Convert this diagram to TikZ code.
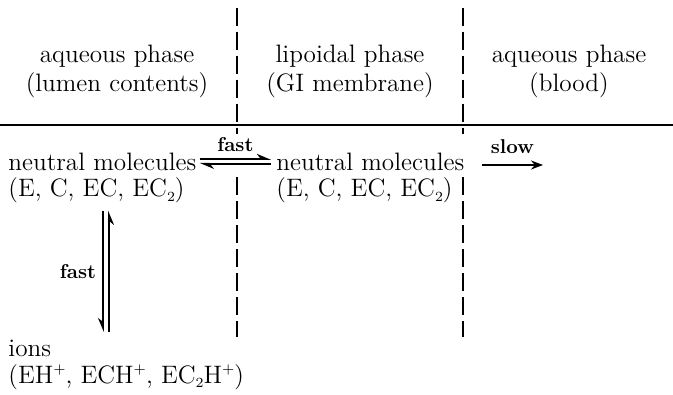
\documentclass[tikz,border=0pt]{standalone}
\usetikzlibrary{arrows.meta,calc}
% compact chemical indices
\newcommand\lowidx[1]{\raisebox{-0.4ex}{\fontsize{7}{7}\selectfont #1}}
\newcommand\charge{\raisebox{0.85ex}{\fontsize{7}{7}\selectfont +}}
\begin{document}
\begin{tikzpicture}[x=0.5pt,y=-0.5pt,
  every node/.style={font=\fontsize{12.6}{14.5}\selectfont, inner sep=0pt},
  head/.style={align=center},
  lbl/.style={font=\fontsize{10}{11}\selectfont\bfseries},
  barrier/.style={line width=1pt, dash pattern=on 9pt off 3pt},
  harp/.style={line width=0.9pt, -{Stealth[harpoon, length=6pt, width=5pt]}},
  harps/.style={line width=0.9pt, -{Stealth[harpoon, swap, length=6pt, width=5pt]}},
  flow/.style={line width=0.9pt, -{Stealth[length=6pt, width=4.5pt]}}
]
\useasboundingbox (0,0) rectangle (673,395);

% phase headings
\node[head] (h1) at (117,71) {aqueous phase\\(lumen contents)};
\node[head] (h2) at (350,71) {lipoidal phase\\(GI membrane)};
\node[head] (h3) at (569,71) {aqueous phase\\(blood)};

% surface line and membrane boundaries
\coordinate (sL) at (0,125);
\coordinate (sR) at (673,125);
\draw[line width=1pt] (sL) -- (sR);

\coordinate (b1a) at (237,8);   \coordinate (b1b) at (237,134);
\coordinate (b1c) at (237,177); \coordinate (b1d) at (237,337);
\coordinate (b2a) at (463,8);   \coordinate (b2b) at (463,134);
\coordinate (b2c) at (463,177); \coordinate (b2d) at (463,337);
\draw[barrier] (b1a) -- (b1b);
\draw[barrier] (b1c) -- (b1d);
\draw[barrier] (b2a) -- (b2b);
\draw[barrier] (b2c) -- (b2d);

% species
\node[anchor=base west] (nm1)  at (8,170)   {neutral molecules};
\node[anchor=base west] (nm1f) at (8,197)   {(E, C, EC, EC\lowidx{2})};
\node[anchor=base west] (nm2)  at (276,170) {neutral molecules};
\node[anchor=base west] (nm2f) at (276,197) {(E, C, EC, EC\lowidx{2})};
\node[anchor=base west] (ion)  at (8,356)   {ions};
\node[anchor=base west] (ionf) at (8,383)   {(EH\charge, ECH\charge, EC\lowidx{2}H\charge)};

% partition equilibrium across the membrane
\draw[harp] ($(nm1.east)+(3,-2.5)$) -- ($(nm2.west)+(-5,-2.5)$)
  node[midway, above=3pt, lbl] {fast};
\draw[harp] ($(nm2.west)+(-5,2.5)$) -- ($(nm1.east)+(3,2.5)$);

% uptake into the blood
\coordinate (out) at (543,165);
\draw[flow] (nm2.east |- out) ++(17,0) -- (out)
  node[midway, above=5pt, lbl] {slow};

% ionisation equilibrium
\coordinate (dn) at (103,0);
\coordinate (up) at (109,0);
\draw[harps] ($(nm1f.south -| dn)+(0,7)$) -- ($(ion.north -| dn)+(0,-7)$)
  node[midway, left=3pt, lbl] {fast};
\draw[harps] ($(ion.north -| up)+(0,-7)$) -- ($(nm1f.south -| up)+(0,7)$);
\end{tikzpicture}
\end{document}
